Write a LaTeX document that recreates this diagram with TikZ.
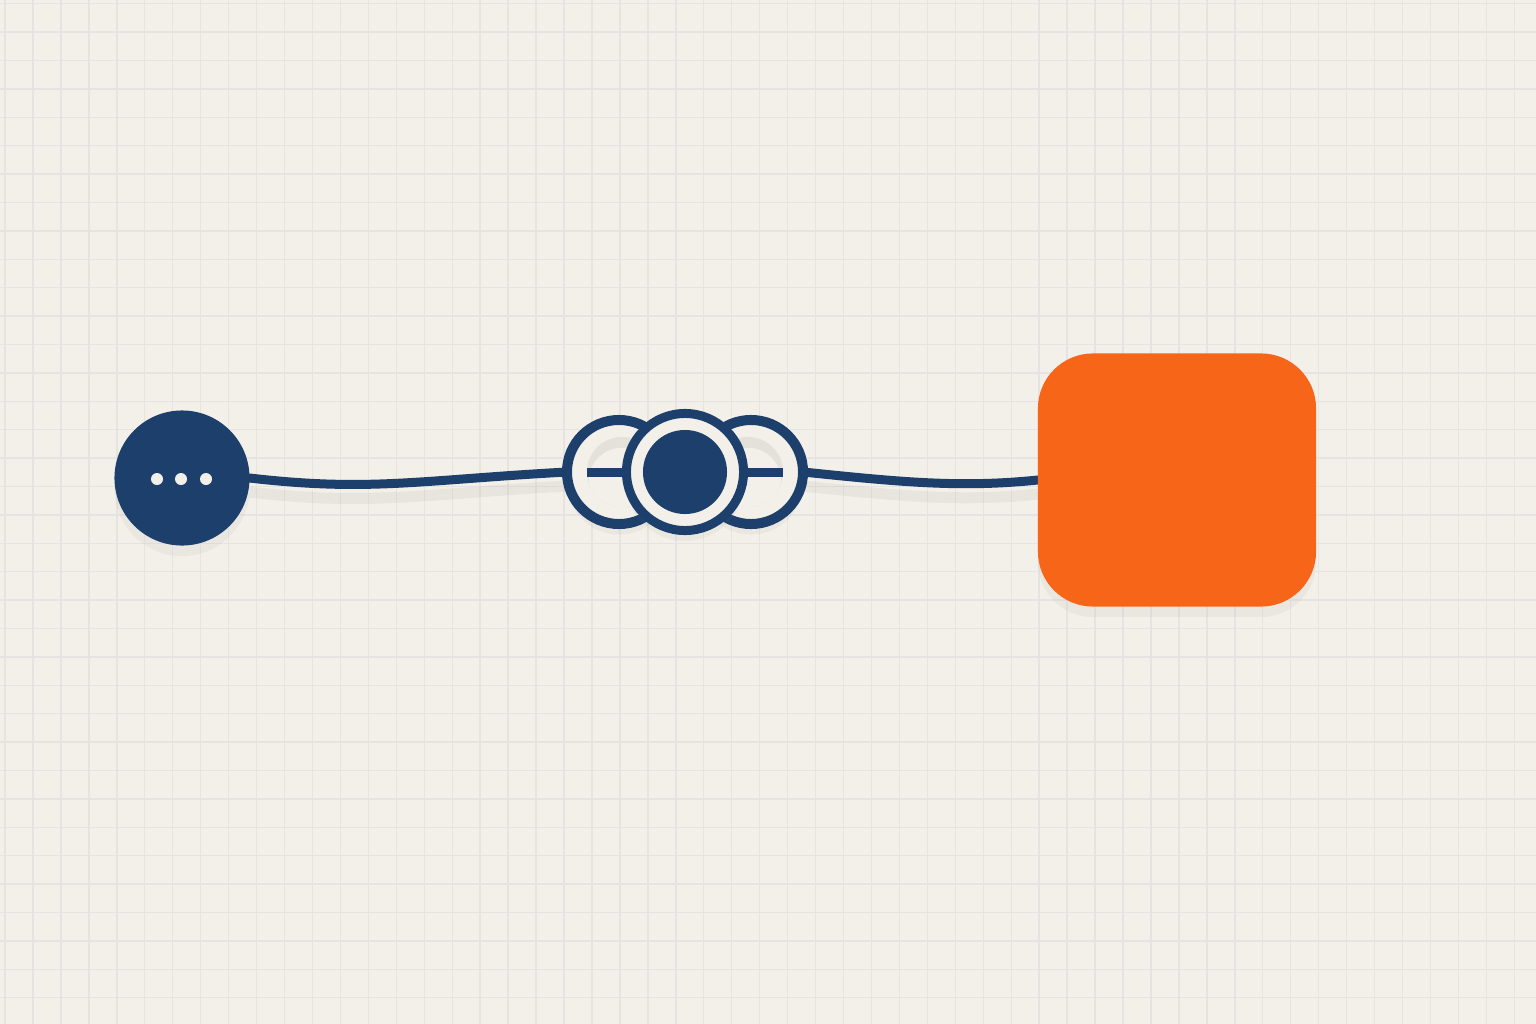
\documentclass[tikz,border=0pt]{standalone}
\usetikzlibrary{positioning,shadows,backgrounds}
\definecolor{navy}{RGB}{29,63,107}
\definecolor{signal}{RGB}{247,101,24}
\definecolor{paper}{RGB}{243,239,233}
\definecolor{gridline}{RGB}{231,227,226}
\definecolor{holeshade}{RGB}{228,224,218}

\begin{document}
\begin{tikzpicture}[x=0.01cm, y=-0.01cm,
  every node/.append style={inner sep=0pt, outer sep=0pt},
  soft/.style={drop shadow={opacity=0.07, shadow xshift=0pt, shadow yshift=-3pt}},
  wire/.style={draw=navy, line width=0.09cm, line cap=round,
    preaction={draw=black, opacity=0.045, line width=0.11cm, transform canvas={yshift=-4pt}}},
  sidering/.style={circle, draw=navy, line width=0.10cm, fill=paper, minimum size=1.04cm},
  hole/.style={circle, fill=holeshade, minimum size=0.70cm,
    path picture={\fill[paper] ([yshift=-2.5pt]path picture bounding box.center) circle (0.33cm);}}]
			\useasboundingbox (0,0) rectangle (1536,1024);
			\begin{scope}[on background layer]
				\fill[paper] (0,0) rectangle (1536,1024);
				\foreach \gx in {0,...,54}
					\draw[gridline, line width=0.014cm] ({5+27.95*\gx},0) -- ++(0,1024);
				\foreach \gy in {-1,...,34}
					\draw[gridline, line width=0.014cm] (0,{32+28.4*\gy}) -- ++(1536,0);
			\end{scope}
			% source with the three dots
			\node (more) at (182,478) [circle, fill=navy, minimum size=1.35cm, soft] {};
			\foreach \dx in {157,181,206}
				\node (dot\dx) at (\dx,479) [circle, fill=paper, minimum size=0.12cm] {};
			% coupling in the middle
			\node (ringL) at (619,472) [sidering, soft] {};
			\node (ringR) at (751,472) [sidering, soft] {};
			\node (holeL) at (622,472) [hole] {};
			\node (holeR) at (748,472) [hole] {};
			\draw[navy, line width=0.09cm] (holeL.west) -- (holeL.east);
			\draw[navy, line width=0.09cm] (holeR.west) -- (holeR.east);
			\node (hub) at (685,472) [circle, draw=navy, line width=0.09cm, fill=paper, minimum size=1.17cm, soft] {};
			\node (core) at (hub.center) [circle, fill=navy, minimum size=0.84cm] {};
			% target
			\node (sink) at (1177,480) [rectangle, fill=signal, rounded corners=0.55cm, minimum width=2.78cm, minimum height=2.53cm, soft] {};
			\begin{scope}[on background layer]
				\draw[wire] (more.east) .. controls (370,492) and (420,480) .. (ringL.west);
				\draw[wire] (ringR.east) .. controls (900,482) and (960,488) .. (sink.west);
			\end{scope}
		\end{tikzpicture}
\end{document}
